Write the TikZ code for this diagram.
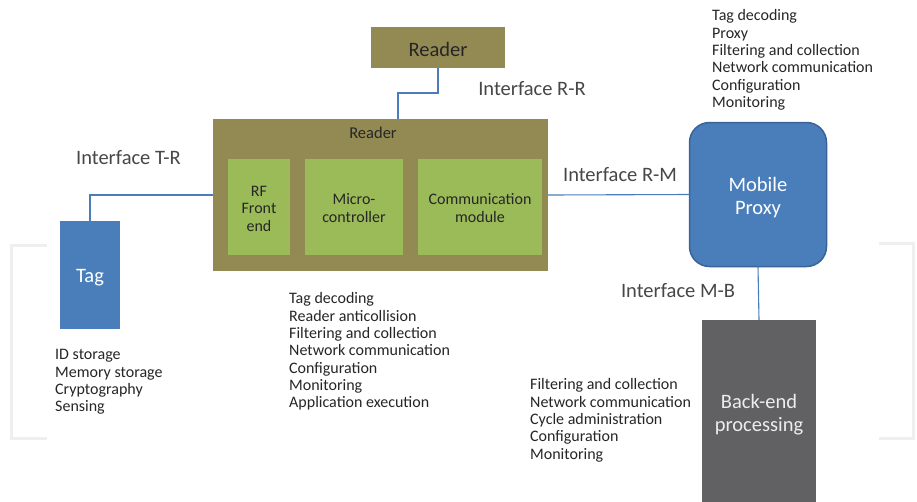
\documentclass[tikz,border=0pt]{standalone}
\usepackage{fontspec}
\setmainfont{Carlito}
\definecolor{olive}{HTML}{938953}
\definecolor{lgreen}{HTML}{9BBB59}
\definecolor{bblue}{HTML}{4A7EBB}
\definecolor{bborder}{HTML}{3A6397}
\definecolor{bgray}{HTML}{616163}
\definecolor{txt}{HTML}{262626}
\definecolor{brk}{HTML}{EFEFEF}
\tikzset{
  box/.style={inner sep=0pt, outer sep=0pt, align=center},
  olivebox/.style={box, fill=olive, text=txt},
  greenbox/.style={box, fill=lgreen, minimum height=96pt},
  greentxt/.style={inner sep=0pt, align=center, text=txt, font=\fontsize{16}{17.5}\selectfont},
  whitetxt/.style={inner sep=0pt, align=center, text=white, font=\fontsize{20.5}{23}\selectfont},
  iflabel/.style={inner sep=0pt, text=txt!85!white, font=\fontsize{20.5}{22}\selectfont},
  listtxt/.style={inner sep=0pt, anchor=north west, align=left, text=txt, font=\fontsize{16}{17.3}\selectfont},
  conn/.style={draw=bblue, line width=1.1pt},
  bracket/.style={draw=brk, line width=3pt}
}
\begin{document}
\begin{tikzpicture}[x=1pt,y=-1pt]
\useasboundingbox[fill=white] (0,0) rectangle (917,501);
% brackets
\draw[bracket] (47,245) -- (11,245) -- (11,438) -- (47,438);
\draw[bracket] (879,243) -- (913,243) -- (913,438) -- (879,438);
% boxes
\node[olivebox, minimum width=134pt, minimum height=41pt] (rtop) at (438,47.5) {};
\node[whitetxt, text=txt] (rtoptxt) at (438,49) {Reader};
\node[olivebox, minimum width=335pt, minimum height=152pt] (reader) at (380.5,195) {};
\node[inner sep=0pt, text=txt, font=\fontsize{16.5}{18}\selectfont] (rtitle) at (373,133) {Reader};
\node[greenbox, minimum width=62pt] (rf) at (259,207) {};
\node[greentxt] (rftxt) at (259,208.5) {RF\\Front\\end};
\node[greenbox, minimum width=98pt] (micro) at (354,207) {};
\node[greentxt] (microtxt) at (354,208) {Micro-\\controller};
\node[greenbox, minimum width=124pt] (comm) at (480,207) {};
\node[greentxt] (commtxt) at (480,208) {Communication\\module};
\node[box, fill=bblue, minimum width=60pt, minimum height=108pt] (tag) at (90,275) {};
\node[whitetxt] (tagtxt) at (90,278) {Tag};
\node[box, fill=bblue, draw=bborder, line width=1.5pt, rounded corners=20pt, minimum width=137pt, minimum height=144pt] (proxy) at (758,194.5) {};
\node[whitetxt] (proxytxt) at (758,197.5) {Mobile\\Proxy};
\node[box, fill=bgray, minimum width=114pt, minimum height=182pt] (backend) at (759,411) {};
\node[whitetxt, text=white!93!black] (betxt) at (759,414.5) {Back-end\\processing};
% connectors
\coordinate (rrj) at (398,93);
\draw[conn] (rtop.south) |- (rrj) -- (rrj |- reader.north);
\draw[conn] (reader.west) -| (tag.north);
\draw[conn] (reader.east) -- (proxy.west);
\draw[conn] (proxy.south) -- (backend.north);
% interface labels
\node[iflabel] (ltr) at (128.5,158) {Interface T-R};
\node[iflabel] (lrr) at (532,89) {Interface R-R};
\node[iflabel] (lrm) at (620,175) {Interface R-M};
\node[iflabel] (lmb) at (678,291) {Interface M-B};
% lists
\node[listtxt] (taglist) at (55,349.5) {ID storage\\Memory storage\\Cryptography\\Sensing};
\node[listtxt] (readerlist) at (289,292.5) {Tag decoding\\Reader anticollision\\Filtering and collection\\Network communication\\Configuration\\Monitoring\\Application execution};
\node[listtxt] (proxylist) at (712,9.5) {Tag decoding\\Proxy\\Filtering and collection\\Network communication\\Configuration\\Monitoring};
\node[listtxt] (belist) at (530,378.5) {Filtering and collection\\Network communication\\Cycle administration\\Configuration\\Monitoring};
\end{tikzpicture}
\end{document}
